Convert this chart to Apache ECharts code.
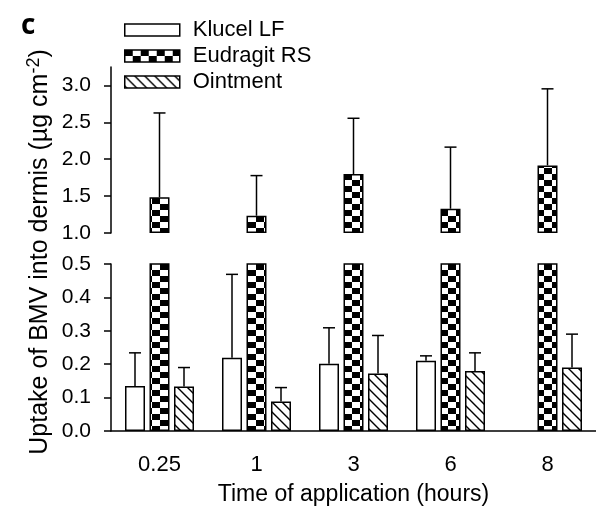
<!DOCTYPE html>
<html><head><meta charset="utf-8">
<script src="https://cdn.jsdelivr.net/npm/echarts@6/dist/echarts.min.js"></script>
<style>html,body{margin:0;padding:0;background:#fff}#c{width:596px;height:515px}</style>
</head><body><div id="c"></div>
<script>
const categories = ['0.25', '1', '3', '6', '8'];
const seriesNames = ['Klucel LF', 'Eudragit RS', 'Ointment'];
const klucelMean = [0.135, 0.219, 0.201, 0.210, null];
const klucelSD = [0.099, 0.250, 0.108, 0.015, null];
const eudragitMean = [1.485, 1.234, 1.800, 1.329, 1.916];
const eudragitSD = [1.142, 0.544, 0.755, 0.835, 1.038];
const ointmentMean = [0.133, 0.088, 0.172, 0.180, 0.190];
const ointmentSD = [0.057, 0.042, 0.114, 0.054, 0.100];
const lowerTicks = [0, 0.1, 0.2, 0.3, 0.4, 0.5];
const upperTicks = [1.0, 1.5, 2.0, 2.5, 3.0];

const FONT = '"Liberation Sans", Arial, sans-serif';
const BAR_W = 20, BAR_STEP = 24.5;

function checker() {
  const c = document.createElement('canvas'); c.width = 16; c.height = 12;
  const g = c.getContext('2d');
  g.fillStyle = '#fff'; g.fillRect(0, 0, 16, 12);
  g.fillStyle = '#000'; g.fillRect(0, 0, 8, 6); g.fillRect(8, 6, 8, 6);
  return c;
}
function hatch() {
  const c = document.createElement('canvas'); c.width = 10; c.height = 10;
  const g = c.getContext('2d');
  g.fillStyle = '#fff'; g.fillRect(0, 0, 10, 10);
  g.strokeStyle = '#000'; g.lineWidth = 1.4; g.beginPath();
  g.moveTo(-2, -2); g.lineTo(12, 12);
  g.moveTo(-7, 3); g.lineTo(7, 17);
  g.moveTo(3, -7); g.lineTo(17, 7);
  g.stroke();
  return c;
}
const styles = {
  'Klucel LF': { color: '#fff', borderColor: '#000', borderWidth: 1.5 },
  'Eudragit RS': { color: { image: checker(), repeat: 'repeat' }, borderColor: '#000', borderWidth: 1.5 },
  'Ointment': { color: { image: hatch(), repeat: 'repeat' }, borderColor: '#000', borderWidth: 1.5 }
};

function errSeries(name, means, sds, offset, xi, yi) {
  return {
    type: 'custom', name: name + ' SD', xAxisIndex: xi, yAxisIndex: yi, silent: true, z: 5,
    data: categories.map((c, i) => [i, means[i], sds[i]]),
    renderItem: function (params, api) {
      const i = api.value(0), m = api.value(1), s = api.value(2);
      if (m == null || isNaN(m) || s == null || isNaN(s)) return null;
      const p0 = api.coord([i, m]), p1 = api.coord([i, m + s]);
      const x = p0[0] + offset;
      return { type: 'group', children: [
        { type: 'line', shape: { x1: x, y1: p0[1], x2: x, y2: p1[1] }, style: { stroke: '#000', lineWidth: 1.5 } },
        { type: 'line', shape: { x1: x - 6, y1: p1[1], x2: x + 6, y2: p1[1] }, style: { stroke: '#000', lineWidth: 1.5 } }
      ] };
    }
  };
}

const axisLineStyle = { color: '#000', width: 1.5 };
const chart = echarts.init(document.getElementById('c'));
chart.setOption({
  animation: false,
  textStyle: { fontFamily: FONT },
  grid: [
    { left: 111, top: 67, width: 487.5, height: 166 },
    { left: 111, top: 264, width: 487.5, height: 167 }
  ],
  legend: {
    orient: 'vertical', left: 124, top: 19, padding: 0,
    itemWidth: 55, itemHeight: 12, itemGap: 4,
    textStyle: { fontSize: 22, color: '#000', fontFamily: FONT, padding: [0, 0, 0, 8] },
    data: seriesNames.map(n => ({ name: n, icon: 'rect', itemStyle: styles[n] }))
  },
  xAxis: [
    { type: 'category', gridIndex: 0, data: categories, show: false },
    { type: 'category', gridIndex: 1, data: categories,
      axisLine: { lineStyle: axisLineStyle },
      axisTick: { alignWithLabel: true, length: 5, lineStyle: { color: '#000', width: 1.5 } },
      axisLabel: { fontSize: 22, color: '#000', margin: 23, fontFamily: FONT },
      name: 'Time of application (hours)', nameLocation: 'middle', nameGap: 52,
      nameTextStyle: { fontSize: 23, color: '#000', fontFamily: FONT } }
  ],
  yAxis: [
    { type: 'value', gridIndex: 0, min: 1, max: 3.25, interval: 0.5, startValue: 1,
      splitLine: { show: false },
      axisLine: { show: true, lineStyle: axisLineStyle },
      axisTick: { show: true, length: 7, customValues: upperTicks, lineStyle: { color: '#000', width: 1.5 } },
      axisLabel: { fontSize: 21, color: '#000', margin: 20, customValues: upperTicks, fontFamily: FONT,
        formatter: v => Number(v).toFixed(1) } },
    { type: 'value', gridIndex: 1, min: 0, max: 0.5, interval: 0.1,
      splitLine: { show: false },
      axisLine: { show: true, lineStyle: axisLineStyle },
      axisTick: { show: true, length: 7, customValues: lowerTicks, lineStyle: { color: '#000', width: 1.5 } },
      axisLabel: { fontSize: 21, color: '#000', margin: 20, customValues: lowerTicks, fontFamily: FONT,
        formatter: v => Number(v).toFixed(1) } }
  ],
  series: [
    { type: 'bar', name: 'Eudragit RS', xAxisIndex: 0, yAxisIndex: 0, data: eudragitMean,
      barWidth: BAR_W, clip: true, itemStyle: styles['Eudragit RS'] },
    { type: 'bar', name: 'Klucel LF', xAxisIndex: 1, yAxisIndex: 1, data: klucelMean,
      barWidth: BAR_W, barGap: '22.5%', clip: true, itemStyle: styles['Klucel LF'] },
    { type: 'bar', name: 'Eudragit RS', xAxisIndex: 1, yAxisIndex: 1, data: eudragitMean,
      barWidth: BAR_W, barGap: '22.5%', clip: true, itemStyle: styles['Eudragit RS'] },
    { type: 'bar', name: 'Ointment', xAxisIndex: 1, yAxisIndex: 1, data: ointmentMean,
      barWidth: BAR_W, barGap: '22.5%', clip: true, itemStyle: styles['Ointment'] },
    errSeries('Eudragit RS', eudragitMean, eudragitSD, 0, 0, 0),
    errSeries('Klucel LF', klucelMean, klucelSD, -BAR_STEP, 1, 1),
    errSeries('Ointment', ointmentMean, ointmentSD, BAR_STEP, 1, 1)
  ],
  graphic: [
    { type: 'text', left: 21, top: 12, style: { text: 'c', font: 'bold 28px "Open Sans", sans-serif', fill: '#000' } },
    { type: 'text', x: 40, y: 252, rotation: Math.PI / 2,
      style: {
        text: '{a|Uptake of BMV into dermis (µg cm}{s|-2}{a|)}',
        align: 'center', verticalAlign: 'middle',
        rich: {
          a: { fontSize: 25, fontFamily: FONT, fill: '#000', lineHeight: 30 },
          s: { fontSize: 18, fontFamily: FONT, fill: '#000', lineHeight: 30, padding: [0, 0, 12, 0] }
        }
      } }
  ]
});
</script></body></html>
